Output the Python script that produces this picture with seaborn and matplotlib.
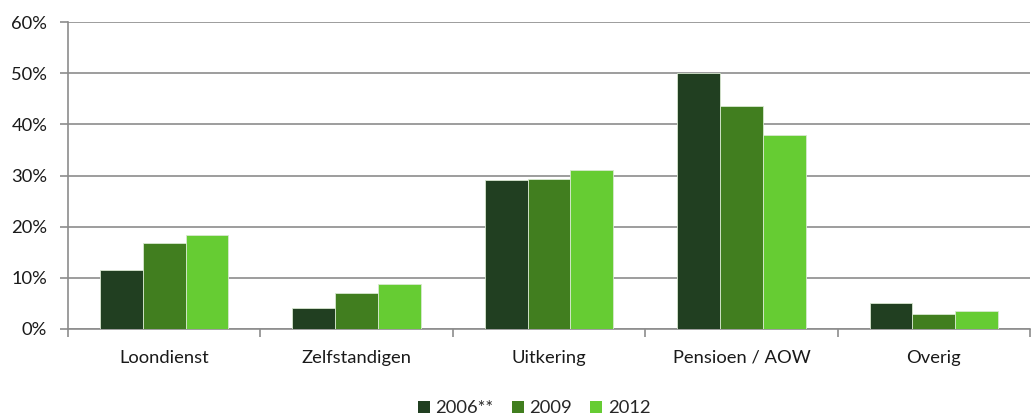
import matplotlib
matplotlib.use("Agg")
import matplotlib.pyplot as plt
import seaborn as sns
import pandas as pd
from matplotlib.patches import Patch
from matplotlib.ticker import PercentFormatter, FixedLocator, NullFormatter

categories = ["Loondienst", "Zelfstandigen", "Uitkering", "Pensioen / AOW", "Overig"]
years = ["2006**", "2009", "2012"]
v2006 = [11.5, 4.1, 29.2, 50.0, 5.0]
v2009 = [16.9, 7.1, 29.4, 43.6, 2.9]
v2012 = [18.3, 8.8, 31.1, 38.0, 3.5]
colors = ["#213F21", "#417E1F", "#66CC33"]

rows = []
for y, vals in zip(years, [v2006, v2009, v2012]):
    for c, v in zip(categories, vals):
        rows.append({"cat": c, "year": y, "val": v})
df = pd.DataFrame(rows)

sns.set_theme(style="white")
plt.rcParams["font.family"] = ["Lato", "DejaVu Sans"]

fig = plt.figure(figsize=(10.31, 4.18), dpi=100)
ax = fig.add_axes([0.066, 0.213, 0.933, 0.734])

sns.barplot(data=df, x="cat", y="val", hue="year", order=categories, hue_order=years,
            palette=colors, saturation=1, width=0.667, gap=0, edgecolor="#D8E8D0", linewidth=0.6,
            ax=ax, legend=False, zorder=3)

ax.set_xlim(-0.5, len(categories) - 0.5)
ax.set_ylim(0, 60)
ax.set_yticks(range(0, 61, 10))
ax.yaxis.set_major_formatter(PercentFormatter(decimals=0))
ax.yaxis.grid(True, color="#8C8C8C", linewidth=1.2, zorder=0)
ax.set_axisbelow(True)
ax.set_xlabel("")
ax.set_ylabel("")

for s in ["top", "right"]:
    ax.spines[s].set_visible(False)
for s in ["left", "bottom"]:
    ax.spines[s].set_color("#8C8C8C")
    ax.spines[s].set_linewidth(1.2)

fs = 13.2
ax.tick_params(axis="y", which="major", left=True, length=6, width=1.2, color="#8C8C8C",
               labelsize=fs, labelcolor="#1A1A1A", pad=9)
ax.tick_params(axis="x", which="major", bottom=False, labelsize=fs, labelcolor="#1A1A1A", pad=9)
ax.xaxis.set_minor_locator(FixedLocator([i - 0.5 for i in range(len(categories) + 1)]))
ax.xaxis.set_minor_formatter(NullFormatter())
ax.tick_params(axis="x", which="minor", bottom=True, length=6, width=1.2, color="#8C8C8C")

handles = [Patch(facecolor=c, edgecolor="none") for c in colors]
fig.legend(handles, years, loc="lower center", bbox_to_anchor=(0.518, -0.035), ncol=3,
           frameon=False, fontsize=fs, handlelength=0.65, handleheight=0.65,
           handletextpad=0.3, columnspacing=1.0)

fig.savefig("out.png", dpi=100)
